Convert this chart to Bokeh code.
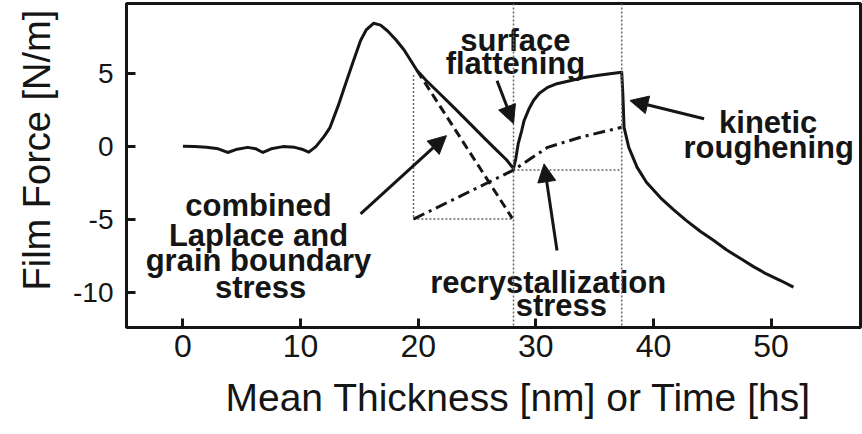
from bokeh.plotting import figure
from bokeh.models import Range1d, FixedTicker, Arrow, NormalHead, Span, Title
from bokeh.core.properties import value
from bokeh.embed import file_html
from bokeh.resources import INLINE

# ---- data ----
film_x = [0, 1, 2, 3, 3.8, 4.5, 5.5, 6.2, 6.8, 7.5, 8.5, 9.5, 10.2, 10.7, 11.3,
          12.0, 12.5, 13.2, 14.0, 14.6, 15.1, 15.6, 16.2, 16.8, 17.4, 18.1, 18.8,
          19.9, 20.7, 21.6, 23.0, 24.4, 25.6, 26.7, 27.5, 28.1, 28.3, 28.5, 28.8,
          29.0, 29.4, 29.8, 30.3, 31.0, 31.8, 32.9, 34.0, 35.2, 36.3, 37.3, 37.4,
          37.5, 37.9, 38.6, 39.4, 40.6, 41.7, 42.8, 44.0, 45.1, 46.2, 47.4, 48.5,
          49.6, 50.8, 51.9]
film_y = [0.02, 0.0, -0.05, -0.15, -0.4, -0.2, -0.05, -0.15, -0.4, -0.15, 0.0, -0.05,
          -0.2, -0.38, 0.0, 0.7, 1.3, 2.8, 4.7, 6.1, 7.25, 8.0, 8.43, 8.3, 7.9, 7.3,
          6.6, 5.2, 4.5, 3.8, 2.7, 1.57, 0.6, -0.27, -0.9, -1.5, -0.8, 0.2, 1.1,
          1.78, 2.55, 3.15, 3.65, 4.05, 4.3, 4.5, 4.7, 4.86, 4.98, 5.08, 3.5,
          1.32, -0.05, -1.4, -2.44, -3.5, -4.3, -5.06, -5.8, -6.4, -7.05, -7.65, -8.2,
          -8.7, -9.15, -9.6]

laplace_x = [19.9, 28.0]
laplace_y = [5.2, -4.9]

recryst_x = [19.6, 28.1, 31.0, 33.8, 37.3]
recryst_y = [-4.95, -1.6, -0.05, 0.64, 1.32]

guide_vx = [28.1, 37.3]                 # full-height dotted markers
box_x = [19.6, 19.6, 28.1]              # dotted triangle construction
box_y = [4.9, -4.95, -4.95]
flat_x = [28.1, 37.3]
flat_y = [-1.6, -1.6]

x_ticks = [0, 10, 20, 30, 40, 50]
y_ticks = [-10, -5, 0, 5]
y_tick_labels = ["-10", "-5", "0", "5"]

x_title = "Mean Thickness [nm] or Time [hs]"
y_title = "Film Force [N/m]"

label_text = ["combined", "Laplace and", "grain boundary", "stress",
              "surface", "flattening", "kinetic", "roughening",
              "recrystallization", "stress"]
label_x = [6.42, 6.42, 6.42, 6.6, 28.26, 28.26, 49.75, 49.8, 31.05, 32.17]
label_y = [-4.04, -6.09, -7.80, -9.64, 7.25, 5.68, 1.64, -0.07, -9.30, -10.88]

arrow_tail_x = [15.1, 26.7, 44.3, 31.8]
arrow_tail_y = [-4.6, 4.5, 1.9, -7.1]
arrow_head_x = [22.4, 28.1, 38.0, 30.7]
arrow_head_y = [0.75, 1.57, 3.15, -1.18]

FONT = "Liberation Sans"
INK = "#151515"

p = figure(width=862, height=434,
           x_range=Range1d(-4.8, 57.6), y_range=Range1d(-12.36, 9.78),
           output_backend="svg", toolbar_location=None,
           min_border_left=126, min_border_right=2, min_border_top=3,
           min_border_bottom=107)
p.background_fill_color = "white"
p.border_fill_color = "white"
p.outline_line_color = INK
p.outline_line_width = 3
p.xgrid.visible = False
p.ygrid.visible = False

# guides
for gx in guide_vx:
    p.add_layout(Span(location=gx, dimension="height", line_color="#666666",
                      line_width=1.5, line_dash="2 2"))
p.line(box_x, box_y, line_color="#666666", line_width=1.5, line_dash="2 2")
p.line(flat_x, flat_y, line_color="#666666", line_width=1.5, line_dash="2 2")

# curves
p.line(film_x, film_y, line_color=INK, line_width=3, line_join="round")
p.line(laplace_x, laplace_y, line_color=INK, line_width=3, line_dash="9 5")
p.line(recryst_x, recryst_y, line_color=INK, line_width=3, line_dash="12 5 3 5")

# arrows
for tx, ty, hx, hy in zip(arrow_tail_x, arrow_tail_y, arrow_head_x, arrow_head_y):
    p.add_layout(Arrow(x_start=tx, y_start=ty, x_end=hx, y_end=hy,
                       line_color=INK, line_width=3,
                       end=NormalHead(size=18, fill_color=INK, line_color=INK)))

# annotation text
p.text(x=label_x, y=label_y, text=label_text, text_align="center",
       text_baseline="alphabetic", text_font=value(FONT), text_font_style="bold",
       text_font_size="31px", text_color=INK)

# axes
xa = p.xaxis[0]
xa.ticker = FixedTicker(ticks=x_ticks)
ya = p.yaxis[0]
ya.ticker = FixedTicker(ticks=y_ticks)
ya.major_label_overrides = {t: s for t, s in zip(y_ticks, y_tick_labels)}
for ax in (xa, ya):
    ax.axis_line_color = INK
    ax.axis_line_width = 3
    ax.major_tick_line_color = INK
    ax.major_tick_line_width = 3
    ax.major_tick_in = 9
    ax.major_tick_out = 0
    ax.minor_tick_line_color = None
    ax.major_label_text_font = FONT
    ax.major_label_text_color = INK

xa.major_label_text_font_size = "32px"
xa.major_label_standoff = 7
ya.major_label_text_font_size = "28px"
ya.major_label_standoff = 13

# axis titles (placed as titles so they can be offset like the original)
p.add_layout(Title(text=x_title, align="left", offset=99, standoff=29,
                   text_font=FONT, text_font_size="39px",
                   text_font_style="normal", text_color=INK), "below")
p.add_layout(Title(text=y_title, align="left", offset=37, standoff=25,
                   text_font=FONT, text_font_size="38px",
                   text_font_style="normal", text_color=INK), "left")

open("out.html", "w").write(file_html(p, INLINE))
